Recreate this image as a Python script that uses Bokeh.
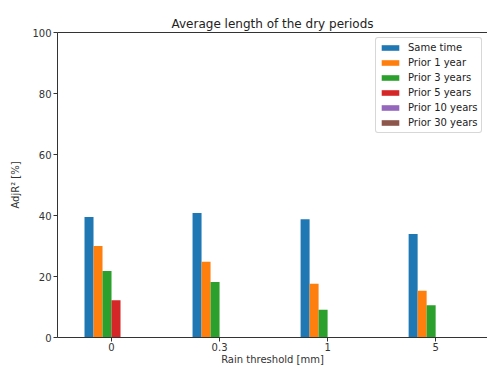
from bokeh.plotting import figure
from bokeh.models import FixedTicker, LinearAxis, Range1d, Legend, LegendItem
from bokeh.embed import file_html
from bokeh.resources import INLINE

categories = ["0", "0.3", "1", "5"]
series_names = ["Same time", "Prior 1 year", "Prior 3 years", "Prior 5 years", "Prior 10 years", "Prior 30 years"]
same_time = [39.5, 40.8, 38.8, 33.9]
prior_1 = [30.0, 24.8, 17.6, 15.3]
prior_3 = [21.8, 18.2, 9.1, 10.6]
prior_5 = [12.2, 0, 0, 0]
prior_10 = [0, 0, 0, 0]
prior_30 = [0, 0, 0, 0]
colors = ["#1f77b4", "#ff7f0e", "#2ca02c", "#d62728", "#9467bd", "#8c564b"]
y_ticks = [0, 20, 40, 60, 80, 100]

all_series = [same_time, prior_1, prior_3, prior_5, prior_10, prior_30]

FONT = "DejaVu Sans"
AX = "#333333"

p = figure(width=487, height=367, output_backend="svg", toolbar_location=None,
           x_range=Range1d(-0.5, 3.48), y_range=Range1d(0, 100),
           min_border_left=57, min_border_right=0, min_border_top=32, min_border_bottom=29,
           x_axis_location=None, y_axis_location=None)
p.outline_line_color = None
p.grid.visible = False
p.background_fill_color = "white"
p.border_fill_color = "white"

p.title.text = "Average length of the dry periods"
p.title.align = "center"
p.title.text_font = FONT
p.title.text_font_style = "normal"
p.title.text_font_size = "12px"
p.title.text_color = "#222222"
p.title.offset = 0
p.title.standoff = 4

n = len(all_series)
w = 1.0 / 12
xs = list(range(len(categories)))
renderers = []
for i, (vals, c) in enumerate(zip(all_series, colors)):
    off = (i - (n - 1) / 2) * w
    r = p.vbar(x=[x + off for x in xs], top=vals, width=w, bottom=0,
               fill_color=c, line_color=None)
    renderers.append(r)

def style(ax):
    ax.axis_line_color = AX
    ax.axis_line_width = 1
    ax.major_tick_line_color = AX
    ax.major_tick_out = 4
    ax.major_tick_in = 0
    ax.minor_tick_line_color = None
    ax.major_label_text_font = FONT
    ax.major_label_text_font_size = "10px"
    ax.major_label_text_color = "#333333"
    ax.axis_label_text_font = FONT
    ax.axis_label_text_font_size = "10px"
    ax.axis_label_text_font_style = "normal"
    ax.axis_label_text_color = "#333333"

xa = LinearAxis(ticker=FixedTicker(ticks=xs), axis_label="Rain threshold [mm]")
xa.major_label_overrides = {i: c for i, c in enumerate(categories)}
style(xa)
xa.major_label_standoff = 1
xa.axis_label_standoff = 0
p.add_layout(xa, "below")

ya = LinearAxis(ticker=FixedTicker(ticks=y_ticks), axis_label="AdjR\u00b2 [%]")
style(ya)
ya.major_label_standoff = 2
ya.axis_label_standoff = 8
p.add_layout(ya, "left")

ta = LinearAxis(ticker=FixedTicker(ticks=[]))
ta.axis_line_color = AX
ta.major_tick_line_color = None
ta.minor_tick_line_color = None
ta.major_label_text_font_size = "0px"
p.add_layout(ta, "above")

legend = Legend(items=[LegendItem(label=nm, renderers=[r]) for nm, r in zip(series_names, renderers)],
                location=(318, 204))
legend.label_text_font = FONT
legend.label_text_font_size = "10px"
legend.label_text_color = "#222222"
legend.glyph_width = 22
legend.glyph_height = 7
legend.label_height = 13
legend.label_standoff = 7
legend.spacing = 2
legend.padding = 3
legend.border_line_color = "#b0b0b0"
legend.border_line_width = 1
legend.border_radius = 3
legend.background_fill_alpha = 0.9
p.add_layout(legend, "center")

open("out.html", "w").write(file_html(p, INLINE))
